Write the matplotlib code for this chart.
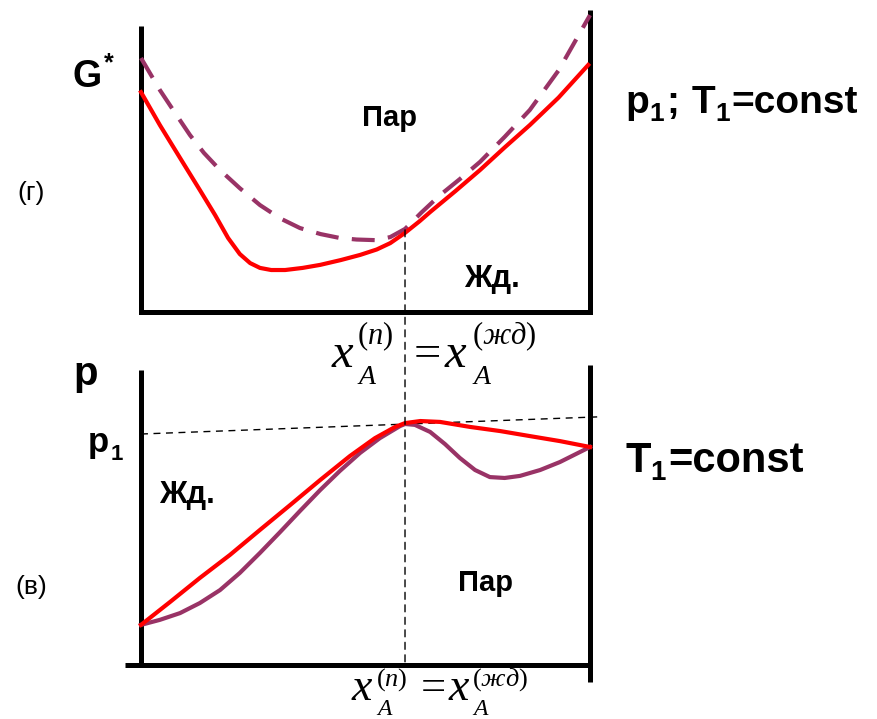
import matplotlib
matplotlib.use("Agg")
import matplotlib.pyplot as plt
from matplotlib.patches import ConnectionPatch

plt.rcParams['mathtext.fontset'] = 'custom'
plt.rcParams['mathtext.rm'] = 'Liberation Serif'
plt.rcParams['mathtext.it'] = 'Liberation Serif:italic'
plt.rcParams['mathtext.bf'] = 'Liberation Sans:bold'
plt.rcParams['font.family'] = ['Liberation Sans', 'DejaVu Sans']

# ---- data (composition x from 0 to 1) ----
# top panel: Gibbs energy G*
g_liq_x = [0.000, 0.042, 0.087, 0.131, 0.165, 0.194, 0.220, 0.243, 0.265, 0.290, 0.321, 0.360, 0.399, 0.445, 0.488, 0.525, 0.555, 0.588, 0.620, 0.644, 0.700, 0.755, 0.810, 0.866, 0.930, 0.996]
g_liq_y = [0.728, 0.619, 0.510, 0.404, 0.321, 0.245, 0.192, 0.162, 0.146, 0.139, 0.139, 0.146, 0.156, 0.172, 0.189, 0.207, 0.228, 0.262, 0.300, 0.331, 0.400, 0.470, 0.545, 0.619, 0.710, 0.818]
g_vap_x = [0.000, 0.042, 0.080, 0.109, 0.140, 0.176, 0.220, 0.265, 0.310, 0.354, 0.400, 0.443, 0.480, 0.521, 0.555, 0.588, 0.625, 0.666, 0.710, 0.755, 0.810, 0.866, 0.930, 1.000]
g_vap_y = [0.841, 0.735, 0.650, 0.586, 0.527, 0.470, 0.410, 0.354, 0.310, 0.278, 0.258, 0.245, 0.240, 0.238, 0.248, 0.275, 0.330, 0.387, 0.440, 0.497, 0.580, 0.669, 0.800, 0.983]

# bottom panel: pressure p
p_red_x = [0.000, 0.065, 0.131, 0.198, 0.265, 0.332, 0.399, 0.465, 0.521, 0.566, 0.588, 0.622, 0.666, 0.733, 0.800, 0.866, 0.933, 1.000]
p_red_y = [0.136, 0.214, 0.295, 0.373, 0.458, 0.542, 0.627, 0.708, 0.769, 0.807, 0.820, 0.827, 0.824, 0.807, 0.793, 0.776, 0.759, 0.739]
p_pur_x = [0.000, 0.042, 0.087, 0.131, 0.176, 0.220, 0.265, 0.310, 0.354, 0.399, 0.443, 0.488, 0.532, 0.577, 0.588, 0.610, 0.644, 0.677, 0.710, 0.744, 0.777, 0.810, 0.844, 0.889, 0.933, 1.000]
p_pur_y = [0.136, 0.153, 0.176, 0.210, 0.254, 0.312, 0.380, 0.451, 0.522, 0.593, 0.658, 0.719, 0.769, 0.810, 0.817, 0.814, 0.790, 0.749, 0.702, 0.661, 0.637, 0.634, 0.641, 0.661, 0.688, 0.739]

# reference lines
x_eq = 0.588          # composition of the tangent point
g_eq = 0.272          # G* at the tangent point
p1_x = [0.000, 1.016]
p1_y = [0.783, 0.841]

RED = '#ff0000'
PURPLE = '#993366'
W, H = 877, 719

fig = plt.figure(figsize=(W / 100, H / 100), dpi=100)
renderer = fig.canvas.get_renderer()

def fx(px):
    return px / W

def fy(py):
    return 1 - py / H

def rich(x, y, pieces, **kw):
    """pieces: (text, fontsize, dy_px, gap_after_px)"""
    cur = x
    for s, size, dy, gap in pieces:
        t = fig.text(fx(cur), fy(y + dy), s, fontsize=size, ha='left', va='baseline', **kw)
        cur += t.get_window_extent(renderer).width + gap

def put(x, y, s, size, **kw):
    fig.text(fx(x), fy(y), s, fontsize=size, ha='left', va='baseline', **kw)

# top axes: px x 141..590, py 312 (G=0) .. 10 (G=1)
ax1 = fig.add_axes([fx(141), fy(312), fx(590) - fx(141), fy(10) - fy(312)])
ax1.set_xlim(0, 1)
ax1.set_ylim(0, 1)
ax1.axis('off')

# bottom axes: px y 682 .. 365 ; p=(665-py)/295
ax2 = fig.add_axes([fx(141), fy(682), fx(590) - fx(141), fy(365) - fy(682)])
ax2.set_xlim(0, 1)
ax2.set_ylim((665 - 682) / 295, (665 - 365) / 295)
ax2.axis('off')

FW = 3.6
# frames
ax1.plot([0, 0], [0.947, 0], color='black', lw=FW, clip_on=False, solid_capstyle='butt')
ax1.plot([0, 1], [0, 0], color='black', lw=FW, clip_on=False, solid_capstyle='projecting')
ax1.plot([1, 1], [0, 1], color='black', lw=FW, clip_on=False, solid_capstyle='butt')

ax2.plot([0, 0], [1.0, 0], color='black', lw=FW, clip_on=False, solid_capstyle='butt')
ax2.plot([-0.036, 1], [0, 0], color='black', lw=FW, clip_on=False, solid_capstyle='butt')
ax2.plot([1, 1], [-0.0576, 1.017], color='black', lw=FW, clip_on=False, solid_capstyle='butt')

# curves top
ax1.plot(g_vap_x, g_vap_y, color=PURPLE, lw=3.0, ls=(0, (5.5, 3.2)), clip_on=False, zorder=3)
ax1.plot(g_liq_x, g_liq_y, color=RED, lw=3.0, clip_on=False, solid_joinstyle='round', zorder=4)

# curves bottom
ax2.plot(p1_x, p1_y, color='black', lw=1.0, ls=(0, (5, 4)), clip_on=False)
ax2.plot(p_pur_x, p_pur_y, color=PURPLE, lw=3.0, clip_on=False, solid_joinstyle='round', zorder=3)
ax2.plot(p_red_x, p_red_y, color=RED, lw=3.0, clip_on=False, solid_joinstyle='round', zorder=4)

# vertical dashed line through both panels
con = ConnectionPatch(xyA=(x_eq, g_eq), coordsA=ax1.transData,
                      xyB=(x_eq, 0), coordsB=ax2.transData,
                      color='black', lw=1.0, ls=(0, (5, 4)), zorder=1)
fig.add_artist(con)

# texts
bold = dict(fontweight='bold', color='black')
put(73, 87, 'G', 27, **bold)
put(104, 70, '*', 18, **bold)
fig.text(fx(390), fy(126), 'Пар', fontsize=21, ha='center', va='baseline', **bold)
fig.text(fx(492), fy(287), 'Жд.', fontsize=22, ha='center', va='baseline', **bold)
fig.text(fx(31), fy(200), '(г)', fontsize=19, ha='center', va='baseline')
rich(625, 113, [('p', 28, 0, 1), ('1', 19, 8, 2), (';', 28, 0, 12), ('T', 28, 0, 0),
                ('1', 19, 8, 2), ('=const', 28, 0, 0)], **bold)

fig.text(fx(73), fy(385), 'p', fontsize=29, ha='left', va='baseline', **bold)
rich(88, 452, [('p', 25, 0, 1), ('1', 16, 8, 0)], **bold)
fig.text(fx(187), fy(503), 'Жд.', fontsize=22, ha='center', va='baseline', **bold)
fig.text(fx(31), fy(594), '(в)', fontsize=19, ha='center', va='baseline')
fig.text(fx(485), fy(591), 'Пар', fontsize=21, ha='center', va='baseline', **bold)
rich(625, 472, [('T', 30, 0, 0), ('1', 20, 8, 2), ('=const', 30, 0, 0)], **bold)

# composition equality labels (Times-like serif, italic letters)
serif = dict(family='Liberation Serif')
# top
put(331, 367, r'$x$', 35)
put(357, 344, r'$(n)$', 22)
put(357, 384, r'$A$', 20)
put(414, 367, '=', 35, **serif)
put(444, 367, r'$x$', 35)
put(472, 344, r'$(жд)$', 22)
put(472, 384, r'$A$', 20)
# bottom
put(351, 700, r'$x$', 33)
put(376, 686, r'$(n)$', 19)
put(376, 715, r'$A$', 17)
put(421, 700, '=', 32, **serif)
put(448, 700, r'$x$', 33)
put(472, 686, r'$(жд)$', 19)
put(472, 715, r'$A$', 17)

fig.savefig('out.png', dpi=100)
